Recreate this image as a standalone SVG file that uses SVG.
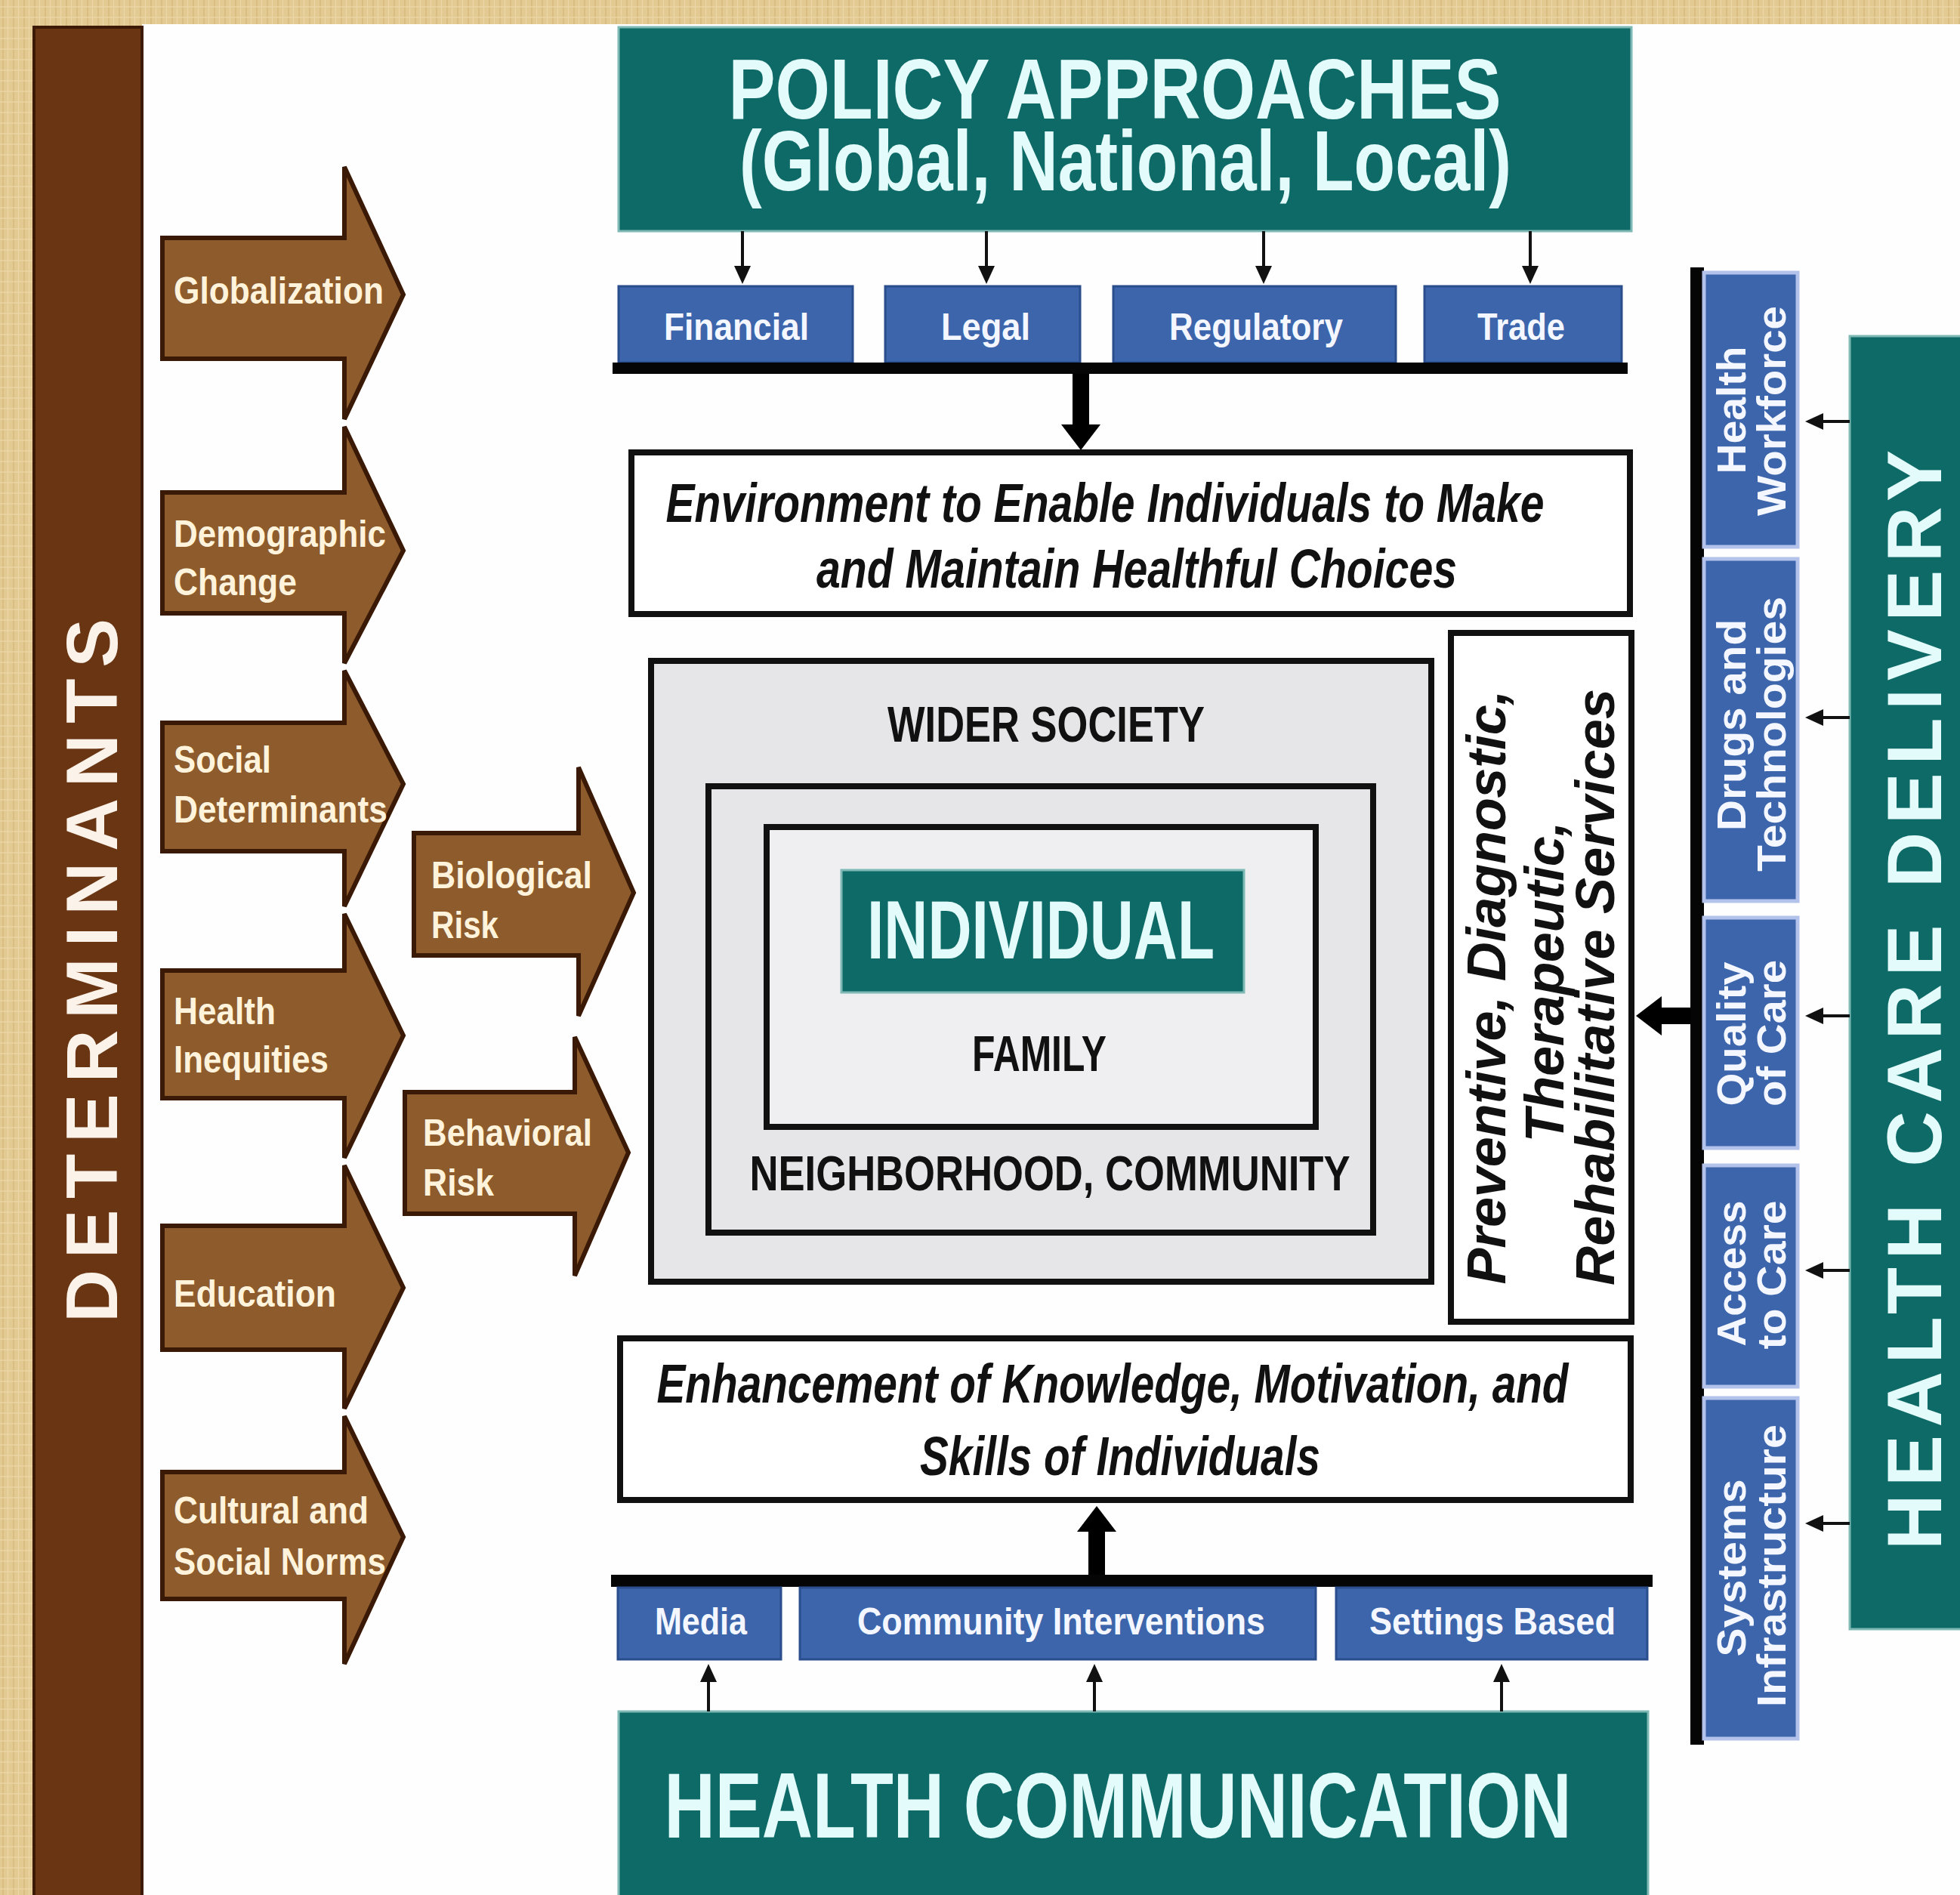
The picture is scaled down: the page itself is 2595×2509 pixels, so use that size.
<svg xmlns="http://www.w3.org/2000/svg" width="2595" height="2509" viewBox="0 0 2595 2509">
<defs>
<pattern id="tan" width="14" height="14" patternUnits="userSpaceOnUse">
<rect width="14" height="14" fill="#e3ca93"/>
<rect x="3" width="2" height="14" fill="#d6b87c" opacity="0.7"/>
<rect x="10" width="1" height="14" fill="#efdcae" opacity="0.8"/>
<rect y="8" width="14" height="2" fill="#ecd7a6" opacity="0.6"/>
</pattern>
<marker id="sa" viewBox="0 0 24 22" refX="0" refY="11" markerWidth="24" markerHeight="22" markerUnits="userSpaceOnUse" orient="auto"><path d="M0,0 L24,11 L0,22 z" fill="#111"/></marker>
<marker id="ba" viewBox="0 0 34 52" refX="0" refY="26" markerWidth="34" markerHeight="52" markerUnits="userSpaceOnUse" orient="auto"><path d="M0,0 L34,26 L0,52 z" fill="#000"/></marker>
<style>
text{font-family:"Liberation Sans",Arial,Helvetica,sans-serif}
.teal{fill:#0e6a66;stroke:#7fb9b5;stroke-width:3}
.tt{fill:#e4fbfb;font-weight:bold;text-anchor:middle}
.blue{fill:#3c65ab;stroke:#2a4d8c;stroke-width:3}
.bt{fill:#f4f7ff;font-weight:bold;font-size:50px;text-anchor:middle}
.col{fill:#3c65ab;stroke:#b3c2ea;stroke-width:5}
.ct{fill:#f4f7ff;font-weight:bold;font-size:54px;text-anchor:middle}
.arr{fill:#8d5b2c;stroke:#3a1a06;stroke-width:6;stroke-linejoin:miter}
.at{fill:#fff3dc;font-weight:bold;font-size:50px}
.wbox{fill:#fff;stroke:#111;stroke-width:8}
.gbox{fill:#e6e6e8;stroke:#111;stroke-width:8}
.it{fill:#111;font-style:italic;font-weight:bold;font-size:72px;text-anchor:middle}
.cap{fill:#111;font-weight:bold;text-anchor:middle}
.bar{fill:#050505}
.sl{stroke:#111;stroke-width:4;fill:none}
.bl{stroke:#000;stroke-width:22;fill:none}
</style>
</defs>

<rect width="2595" height="2509" fill="url(#tan)"/>
<rect x="188" y="32" width="2407" height="2477" fill="#fefefe"/>

<g id="determinants">
<rect x="45" y="36" width="143" height="2480" fill="#6a3513" stroke="#3c1a06" stroke-width="4"/>
<text transform="translate(155,1285) rotate(-90)" font-size="97" font-weight="bold" fill="#fbf3ea" text-anchor="middle" textLength="932">DETERMINANTS</text>
</g>

<g id="globalization">
<polygon class="arr" points="215,315 456,315 456,221 534,390 456,555 456,475 215,475"/>
<text class="at" x="230" y="402" textLength="278" lengthAdjust="spacingAndGlyphs">Globalization</text>
</g>
<g id="demographic-change">
<polygon class="arr" points="215,652 456,652 456,565 534,729 456,878 456,812 215,812"/>
<text class="at" x="230" y="724" textLength="281" lengthAdjust="spacingAndGlyphs">Demographic</text>
<text class="at" x="230" y="788" textLength="163" lengthAdjust="spacingAndGlyphs">Change</text>
</g>
<g id="social-determinants">
<polygon class="arr" points="215,957 456,957 456,888 534,1038 456,1200 456,1127 215,1127"/>
<text class="at" x="230" y="1023" textLength="129" lengthAdjust="spacingAndGlyphs">Social</text>
<text class="at" x="230" y="1089" textLength="283" lengthAdjust="spacingAndGlyphs">Determinants</text>
</g>
<g id="health-inequities">
<polygon class="arr" points="215,1285 456,1285 456,1210 534,1371 456,1533 456,1454 215,1454"/>
<text class="at" x="230" y="1356" textLength="135" lengthAdjust="spacingAndGlyphs">Health</text>
<text class="at" x="230" y="1420" textLength="205" lengthAdjust="spacingAndGlyphs">Inequities</text>
</g>
<g id="education">
<polygon class="arr" points="215,1623 456,1623 456,1543 534,1705 456,1865 456,1787 215,1787"/>
<text class="at" x="230" y="1730" textLength="215" lengthAdjust="spacingAndGlyphs">Education</text>
</g>
<g id="cultural-social-norms">
<polygon class="arr" points="215,1949 456,1949 456,1875 534,2035 456,2203 456,2117 215,2117"/>
<text class="at" x="230" y="2017" textLength="258" lengthAdjust="spacingAndGlyphs">Cultural and</text>
<text class="at" x="230" y="2085" textLength="281" lengthAdjust="spacingAndGlyphs">Social Norms</text>
</g>
<g id="biological-risk">
<polygon class="arr" points="548,1103 766,1103 766,1016 839,1182 766,1345 766,1265 548,1265"/>
<text class="at" x="571" y="1176" textLength="213" lengthAdjust="spacingAndGlyphs">Biological</text>
<text class="at" x="571" y="1242" textLength="89" lengthAdjust="spacingAndGlyphs">Risk</text>
</g>
<g id="behavioral-risk">
<polygon class="arr" points="536,1446 761,1446 761,1373 832,1526 761,1689 761,1607 536,1607"/>
<text class="at" x="560" y="1517" textLength="224" lengthAdjust="spacingAndGlyphs">Behavioral</text>
<text class="at" x="560" y="1583" textLength="94" lengthAdjust="spacingAndGlyphs">Risk</text>
</g>

<g id="policy-approaches">
<rect class="teal" x="819" y="36" width="1341" height="270"/>
<text class="tt" x="1476" y="157" font-size="113" textLength="1023" lengthAdjust="spacingAndGlyphs">POLICY APPROACHES</text>
<text class="tt" x="1490" y="252" font-size="113" textLength="1022" lengthAdjust="spacingAndGlyphs">(Global, National, Local)</text>
</g>

<g id="financial"><rect class="blue" x="819" y="379" width="310" height="101"/><text class="bt" x="975" y="450" textLength="192" lengthAdjust="spacingAndGlyphs">Financial</text></g>
<g id="legal"><rect class="blue" x="1172" y="379" width="258" height="101"/><text class="bt" x="1305" y="450" textLength="118" lengthAdjust="spacingAndGlyphs">Legal</text></g>
<g id="regulatory"><rect class="blue" x="1474" y="379" width="374" height="101"/><text class="bt" x="1663" y="450" textLength="230" lengthAdjust="spacingAndGlyphs">Regulatory</text></g>
<g id="trade"><rect class="blue" x="1886" y="379" width="261" height="101"/><text class="bt" x="2014" y="450" textLength="116" lengthAdjust="spacingAndGlyphs">Trade</text></g>
<rect id="policy-bar" class="bar" x="811" y="480" width="1344" height="15"/>

<g id="environment">
<rect class="wbox" x="836" y="599" width="1322" height="214"/>
<text class="it" x="1463" y="691" textLength="1163" lengthAdjust="spacingAndGlyphs">Environment to Enable Individuals to Make</text>
<text class="it" x="1505" y="778" textLength="848" lengthAdjust="spacingAndGlyphs">and Maintain Healthful Choices</text>
</g>

<g id="wider-society">
<rect class="gbox" x="862" y="875" width="1033" height="822"/>
<text class="cap" x="1385" y="982" font-size="66" textLength="420" lengthAdjust="spacingAndGlyphs">WIDER SOCIETY</text>
</g>
<g id="neighborhood-community">
<rect class="gbox" x="938" y="1041" width="880" height="591" fill="#e9e9eb"/>
<text class="cap" x="1390" y="1576" font-size="64" textLength="795" lengthAdjust="spacingAndGlyphs">NEIGHBORHOOD, COMMUNITY</text>
</g>
<g id="family">
<rect class="gbox" x="1015" y="1095" width="727" height="397" style="fill:#efeff1"/>
<text class="cap" x="1376" y="1418" font-size="66" textLength="178" lengthAdjust="spacingAndGlyphs">FAMILY</text>
</g>
<g id="individual">
<rect class="teal" x="1114" y="1152" width="533" height="162"/>
<text class="tt" x="1378" y="1269" font-size="110" textLength="460" lengthAdjust="spacingAndGlyphs">INDIVIDUAL</text>
</g>

<g id="services">
<rect class="wbox" x="1921" y="838" width="239" height="912" stroke-width="6"/>
<text class="it" font-size="64" transform="translate(1993,1307) rotate(-90)" textLength="787">Preventive, Diagnostic,</text>
<text class="it" font-size="64" transform="translate(2070,1300) rotate(-90)" textLength="425">Therapeutic,</text>
<text class="it" font-size="64" transform="translate(2137,1307) rotate(-90)" textLength="790">Rehabilitative Services</text>
</g>

<g id="enhancement">
<rect class="wbox" x="821" y="1772" width="1338" height="214"/>
<text class="it" x="1473" y="1857" textLength="1207" lengthAdjust="spacingAndGlyphs">Enhancement of Knowledge, Motivation, and</text>
<text class="it" x="1483" y="1953" textLength="530" lengthAdjust="spacingAndGlyphs">Skills of Individuals</text>
</g>

<rect id="communication-bar" class="bar" x="809" y="2085" width="1379" height="16"/>
<g id="media"><rect class="blue" x="818" y="2102" width="216" height="95"/><text class="bt" x="928" y="2164" textLength="122" lengthAdjust="spacingAndGlyphs">Media</text></g>
<g id="community-interventions"><rect class="blue" x="1059" y="2102" width="683" height="95"/><text class="bt" x="1405" y="2164" textLength="540" lengthAdjust="spacingAndGlyphs">Community Interventions</text></g>
<g id="settings-based"><rect class="blue" x="1769" y="2102" width="412" height="95"/><text class="bt" x="1976" y="2164" textLength="326" lengthAdjust="spacingAndGlyphs">Settings Based</text></g>

<g id="health-communication">
<rect class="teal" x="819" y="2266" width="1363" height="260"/>
<text class="tt" x="1480" y="2433" font-size="123" textLength="1201" lengthAdjust="spacingAndGlyphs">HEALTH COMMUNICATION</text>
</g>

<rect id="delivery-bar" class="bar" x="2238" y="354" width="18" height="1956"/>
<g id="health-workforce"><rect class="col" x="2256" y="361" width="124" height="363"/>
<text class="ct" transform="translate(2311,543) rotate(-90)" textLength="169" lengthAdjust="spacingAndGlyphs">Health</text>
<text class="ct" transform="translate(2364,544) rotate(-90)" textLength="278" lengthAdjust="spacingAndGlyphs">Workforce</text></g>
<g id="drugs-technologies"><rect class="col" x="2256" y="740" width="124" height="453"/>
<text class="ct" transform="translate(2311,960) rotate(-90)" textLength="280" lengthAdjust="spacingAndGlyphs">Drugs and</text>
<text class="ct" transform="translate(2364,972) rotate(-90)" textLength="364" lengthAdjust="spacingAndGlyphs">Technologies</text></g>
<g id="quality-of-care"><rect class="col" x="2256" y="1215" width="124" height="305"/>
<text class="ct" transform="translate(2311,1369) rotate(-90)" textLength="191" lengthAdjust="spacingAndGlyphs">Quality</text>
<text class="ct" transform="translate(2364,1368) rotate(-90)" textLength="194" lengthAdjust="spacingAndGlyphs">of Care</text></g>
<g id="access-to-care"><rect class="col" x="2256" y="1543" width="124" height="293"/>
<text class="ct" transform="translate(2311,1686) rotate(-90)" textLength="193" lengthAdjust="spacingAndGlyphs">Access</text>
<text class="ct" transform="translate(2364,1688) rotate(-90)" textLength="197" lengthAdjust="spacingAndGlyphs">to Care</text></g>
<g id="systems-infrastructure"><rect class="col" x="2256" y="1851" width="124" height="451"/>
<text class="ct" transform="translate(2311,2076) rotate(-90)" textLength="235" lengthAdjust="spacingAndGlyphs">Systems</text>
<text class="ct" transform="translate(2364,2073) rotate(-90)" textLength="374" lengthAdjust="spacingAndGlyphs">Infrastructure</text></g>

<g id="health-care-delivery">
<rect class="teal" x="2449" y="445" width="160" height="1712"/>
<text class="tt" transform="translate(2570,1324) rotate(-90)" font-size="102" textLength="1456">HEALTH CARE DELIVERY</text>
</g>

<g id="connectors">
<line class="sl" x1="983" y1="306" x2="983" y2="352" marker-end="url(#sa)"/>
<line class="sl" x1="1306" y1="306" x2="1306" y2="352" marker-end="url(#sa)"/>
<line class="sl" x1="1673" y1="306" x2="1673" y2="352" marker-end="url(#sa)"/>
<line class="sl" x1="2026" y1="306" x2="2026" y2="352" marker-end="url(#sa)"/>
<line class="bl" x1="1431" y1="495" x2="1431" y2="562" marker-end="url(#ba)"/>
<line class="bl" x1="1452" y1="2085" x2="1452" y2="2028" marker-end="url(#ba)"/>
<line class="bl" x1="2238" y1="1345" x2="2200" y2="1345" marker-end="url(#ba)"/>
<line class="sl" x1="2449" y1="558" x2="2414" y2="558" marker-end="url(#sa)"/>
<line class="sl" x1="2449" y1="950" x2="2414" y2="950" marker-end="url(#sa)"/>
<line class="sl" x1="2449" y1="1345" x2="2414" y2="1345" marker-end="url(#sa)"/>
<line class="sl" x1="2449" y1="1682" x2="2414" y2="1682" marker-end="url(#sa)"/>
<line class="sl" x1="2449" y1="2017" x2="2414" y2="2017" marker-end="url(#sa)"/>
<line class="sl" x1="938" y1="2266" x2="938" y2="2227" marker-end="url(#sa)"/>
<line class="sl" x1="1449" y1="2266" x2="1449" y2="2227" marker-end="url(#sa)"/>
<line class="sl" x1="1988" y1="2266" x2="1988" y2="2227" marker-end="url(#sa)"/>
</g>
</svg>
